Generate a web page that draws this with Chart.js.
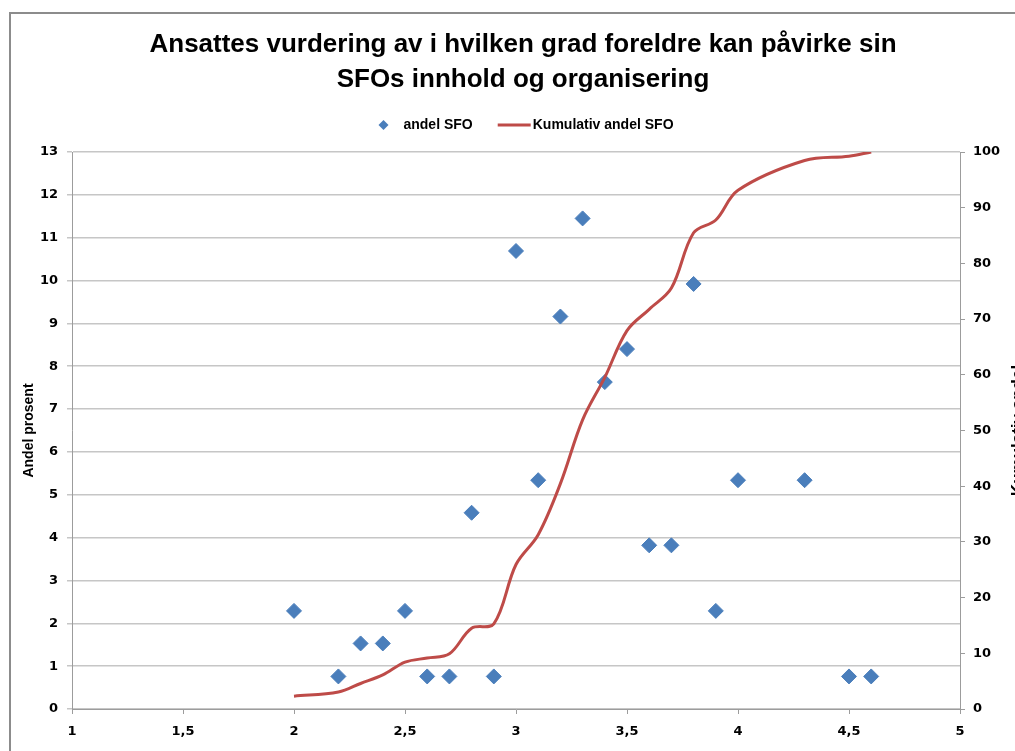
<!DOCTYPE html>
<html>
<head>
<meta charset="utf-8">
<script src="https://cdn.jsdelivr.net/npm/chart.js@4.4.1/dist/chart.umd.min.js"></script>
<style>
  html, body { margin: 0; padding: 0; background: #fff; overflow: hidden; }
  #marco {
    position: absolute; left: 9px; top: 12px;
    width: 1030px; height: 780px;
    border-left: 2px solid #8c8c8c; border-top: 2px solid #8c8c8c;
  }
  #grafico { display: block; }
</style>
</head>
<body>
<div id="marco"><canvas id="grafico" width="1024" height="779"></canvas></div>
<script>
// 1. DATA
const xVerdier = [2.0, 2.2, 2.3, 2.4, 2.5, 2.6, 2.7, 2.8, 2.9, 3.0, 3.1, 3.2, 3.3, 3.4, 3.5, 3.6, 3.7, 3.8, 3.9, 4.0, 4.3, 4.5, 4.6];
const andelSFO = [2.29, 0.76, 1.53, 1.53, 2.29, 0.76, 0.76, 4.58, 0.76, 10.69, 5.34, 9.16, 11.45, 7.63, 8.40, 3.82, 3.82, 9.92, 2.29, 5.34, 5.34, 0.76, 0.76];
const kumulativ = [2.29, 3.05, 4.58, 6.11, 8.40, 9.16, 9.92, 14.50, 15.27, 25.95, 31.30, 40.46, 51.91, 59.54, 67.94, 71.76, 75.57, 85.50, 87.79, 93.13, 98.47, 99.24, 100];

const tittel = ['Ansattes vurdering av i hvilken grad foreldre kan påvirke sin', 'SFOs innhold og organisering'];
const serieNavn = ['andel SFO', 'Kumulativ andel SFO'];
const aksetittelV = 'Andel prosent';
const aksetittelH = 'Kumulativ andel';

// 2. STIL
const BLA = '#4A7EBB';
const ROD = '#BE4B48';
const GRID = '#c6c6c6';
const AKSE = '#9c9c9c';
const fontTekst = "'Liberation Sans', Arial, sans-serif";
const fontTick = "'DejaVu Sans', Verdana, sans-serif";

// plott-rammen i canvas-koordinater (canvas starter på side-x 11, side-y 14)
const BREDDE = 1024, HOYDE = 779;
const PLOT_V = 61, PLOT_H = 949, PLOT_T = 138, PLOT_B = 695;

// egen legende (diamant + linje) og høyre aksetittel lest nedenfra og opp
const legendePlugin = {
    id: 'legende',
    afterDraw(chart) {
        const ctx = chart.ctx;
        const y = 111;
        ctx.save();
        ctx.font = 'bold 14px ' + fontTekst;
        ctx.textBaseline = 'middle';
        const w1 = ctx.measureText(serieNavn[0]).width;
        const w2 = ctx.measureText(serieNavn[1]).width;
        const total = 25 + w1 + 25 + 33 + 2 + w2;
        let x = 515 - total / 2;
        // diamant
        ctx.fillStyle = BLA;
        ctx.beginPath();
        ctx.moveTo(x + 5, y - 5); ctx.lineTo(x + 10, y); ctx.lineTo(x + 5, y + 5); ctx.lineTo(x, y);
        ctx.closePath();
        ctx.fill();
        x += 25;
        ctx.fillStyle = '#000';
        ctx.fillText(serieNavn[0], x, y);
        x += w1 + 25;
        ctx.strokeStyle = ROD;
        ctx.lineWidth = 3;
        ctx.beginPath();
        ctx.moveTo(x, y); ctx.lineTo(x + 33, y);
        ctx.stroke();
        x += 35;
        ctx.fillText(serieNavn[1], x, y);

        // høyre aksetittel
        const a = chart.chartArea;
        ctx.translate(1007, (a.top + a.bottom) / 2);
        ctx.rotate(-Math.PI / 2);
        ctx.font = 'bold 17px ' + fontTekst;
        ctx.textAlign = 'center';
        ctx.fillText(aksetittelH, 0, 0);
        ctx.restore();
    }
};

// 3. GRAF
const ctx = document.getElementById('grafico').getContext('2d');
const grafico = new Chart(ctx, {
    type: 'scatter',
    data: {
        datasets: [
            {
                label: serieNavn[1],
                data: xVerdier.map((x, i) => ({ x: x, y: kumulativ[i] })),
                yAxisID: 'y2',
                showLine: true,
                borderColor: ROD,
                borderWidth: 3,
                tension: 0.35,
                pointRadius: 0,
                order: 0
            },
            {
                label: serieNavn[0],
                data: xVerdier.map((x, i) => ({ x: x, y: andelSFO[i] })),
                yAxisID: 'y',
                pointStyle: 'rectRot',
                pointRadius: 7.5,
                pointHoverRadius: 7.5,
                backgroundColor: BLA,
                borderColor: BLA,
                borderWidth: 1,
                order: 1
            }
        ]
    },
    options: {
        responsive: false,
        devicePixelRatio: 1,
        animation: false,
        layout: { padding: 0 },
        scales: {
            x: {
                type: 'linear',
                min: 1, max: 5,
                afterFit: (s) => { s.height = HOYDE - PLOT_B; },
                ticks: {
                    stepSize: 0.5,
                    padding: 10,
                    color: '#000',
                    font: { family: fontTick, size: 13, weight: 'bold' },
                    callback: (v) => v.toString().replace('.', ',')
                },
                grid: { drawOnChartArea: false, drawTicks: true, tickLength: 5, color: AKSE },
                border: { color: AKSE, width: 1 }
            },
            y: {
                position: 'left',
                min: 0, max: 13,
                afterFit: (s) => { s.width = PLOT_V; },
                ticks: {
                    stepSize: 1,
                    padding: 9,
                    color: '#000',
                    font: { family: fontTick, size: 13, weight: 'bold' }
                },
                grid: { color: GRID, lineWidth: 1.5, tickLength: 5 },
                border: { color: AKSE, width: 1 },
                title: {
                    display: true,
                    text: aksetittelV,
                    color: '#000',
                    font: { family: fontTekst, size: 14, weight: 'bold' },
                    padding: { top: 10 }
                }
            },
            y2: {
                position: 'right',
                min: 0, max: 100,
                afterFit: (s) => { s.width = BREDDE - PLOT_H; },
                ticks: {
                    stepSize: 10,
                    padding: 8,
                    color: '#000',
                    font: { family: fontTick, size: 13, weight: 'bold' }
                },
                grid: { drawOnChartArea: false, color: AKSE, tickLength: 5 },
                border: { color: AKSE, width: 1 }
            }
        },
        plugins: {
            legend: { display: false },
            tooltip: { enabled: false },
            title: {
                display: true,
                text: tittel,
                color: '#000',
                font: { family: fontTekst, size: 26, weight: 'bold', lineHeight: 1.35 },
                padding: { top: 13.5, bottom: PLOT_T - 13.5 - 70.2 }
            }
        }
    },
    plugins: [legendePlugin]
});
</script>
</body>
</html>
